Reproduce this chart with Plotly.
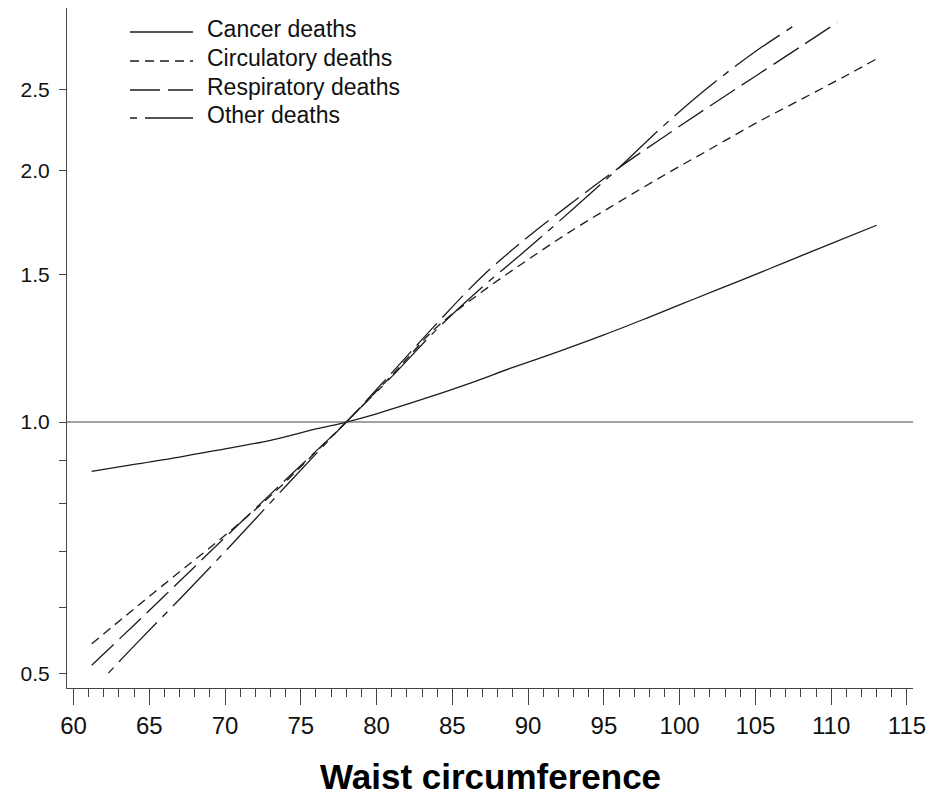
import plotly.graph_objects as go

# Waist circumference (cm) and hazard ratio (reference: 78 cm) per cause of death
waist_cancer = [61.2, 64, 67, 70, 73, 76, 78, 80, 83, 86, 89, 92, 95, 98, 101, 104, 107, 110, 113]
hr_cancer = [0.873, 0.890, 0.908, 0.929, 0.951, 0.981, 1.0, 1.023, 1.064, 1.110, 1.162, 1.214,
             1.271, 1.335, 1.404, 1.476, 1.553, 1.634, 1.719]

waist_circulatory = [61.2, 64, 67, 70, 73, 76, 78, 81, 84, 87, 90, 93, 96, 99, 102, 105, 108, 111, 113]
hr_circulatory = [0.543, 0.598, 0.662, 0.732, 0.816, 0.921, 1.0, 1.137, 1.300, 1.433, 1.564, 1.699,
                  1.833, 1.974, 2.119, 2.275, 2.430, 2.596, 2.718]

waist_respiratory = [61.2, 64, 67, 70, 73, 76, 78, 81, 84, 87, 90, 93, 96, 99, 102, 105, 108, 110.4]
hr_respiratory = [0.512, 0.572, 0.645, 0.728, 0.820, 0.923, 1.0, 1.145, 1.313, 1.495, 1.665, 1.835,
                  2.014, 2.195, 2.387, 2.591, 2.812, 3.004]

waist_other = [62.3, 64, 67, 70, 73, 76, 78, 81, 84, 87, 90, 93, 96, 99, 102, 105, 107.8]
hr_other = [0.501, 0.540, 0.614, 0.700, 0.801, 0.916, 1.0, 1.133, 1.292, 1.451, 1.613, 1.800,
            2.014, 2.266, 2.522, 2.773, 2.997]

series_names = ["Cancer deaths", "Circulatory deaths", "Respiratory deaths", "Other deaths"]
series_x = [waist_cancer, waist_circulatory, waist_respiratory, waist_other]
series_y = [hr_cancer, hr_circulatory, hr_respiratory, hr_other]

y_tickvals = [0.5, 0.6, 0.7, 0.8, 0.9, 1.0, 1.5, 2.0, 2.5]
y_ticktext = ["0.5", "", "", "", "", "1.0", "1.5", "2.0", "2.5"]
x_tickvals = list(range(60, 116, 5))
x_title = "Waist circumference"

# Styling
dashes = ["solid", "9px,6px", "30px,8px", "7px,8px,55px,8px"]
ink = "#1c1c1c"
axis_col = "#444444"
W, H = 942, 796
M_L, M_R, M_T, M_B = 67, 29, 8, 108
plot_w = W - M_L - M_R
plot_h = H - M_T - M_B


def paper_x(px):
    return (px - M_L) / plot_w


def paper_y(py):
    return (H - M_B - py) / plot_h


fig = go.Figure()
for name, xs, ys, dash in zip(series_names, series_x, series_y, dashes):
    fig.add_trace(go.Scatter(
        x=xs, y=ys, mode="lines", name=name, showlegend=False,
        line=dict(color=ink, width=1.3, dash=dash, shape="spline", smoothing=1.0),
    ))

shapes = [
    # reference line at HR = 1
    dict(type="line", xref="paper", yref="y", x0=0, x1=1, y0=1.0, y1=1.0,
         line=dict(color=axis_col, width=1.2)),
]
annotations = []
legend_rows = [29, 58, 87, 115]
for name, dash, ry in zip(series_names, dashes, legend_rows):
    shapes.append(dict(type="line", xref="paper", yref="paper",
                       x0=paper_x(130), x1=paper_x(193),
                       y0=paper_y(ry + 3), y1=paper_y(ry + 3),
                       line=dict(color=ink, width=1.3, dash=dash)))
    annotations.append(dict(text=name, xref="paper", yref="paper",
                            x=paper_x(205), y=paper_y(ry), xanchor="left", yanchor="middle",
                            showarrow=False,
                            font=dict(family="Liberation Sans, Arial, sans-serif", size=23, color="#111")))

annotations.append(dict(text=f"<b>{x_title}</b>", xref="paper", yref="paper",
                        x=0.5, y=paper_y(776), xanchor="center", yanchor="middle", showarrow=False,
                        font=dict(family="Liberation Sans, Arial, sans-serif", size=35, color="#000")))

fig.update_layout(
    width=W, height=H,
    margin=dict(l=M_L, r=M_R, t=M_T, b=M_B, pad=0),
    paper_bgcolor="white", plot_bgcolor="white",
    shapes=shapes, annotations=annotations,
    xaxis=dict(
        range=[59.57, 115.40], showgrid=False, zeroline=False,
        showline=True, linecolor=axis_col, linewidth=1.2,
        tickvals=x_tickvals, ticks="outside", ticklen=16, tickcolor=axis_col, tickwidth=1.2,
        ticklabelstandoff=0,
        minor=dict(dtick=1, tick0=60, ticks="outside", ticklen=8, tickcolor=axis_col, tickwidth=1.2,
                   showgrid=False),
        tickfont=dict(family="Liberation Sans Narrow, Arial Narrow, Liberation Sans, sans-serif",
                      size=24, color="#111"),
    ),
    yaxis=dict(
        type="log", range=[-0.3180, 0.4950], showgrid=False, zeroline=False,
        showline=True, linecolor=axis_col, linewidth=1.2,
        tickvals=y_tickvals, ticktext=y_ticktext,
        ticks="outside", ticklen=7, tickcolor=axis_col, tickwidth=1.2,
        ticklabelstandoff=5,
        tickfont=dict(family="Liberation Sans, Arial, sans-serif", size=21, color="#111"),
    ),
)

fig.write_html("out.html")
